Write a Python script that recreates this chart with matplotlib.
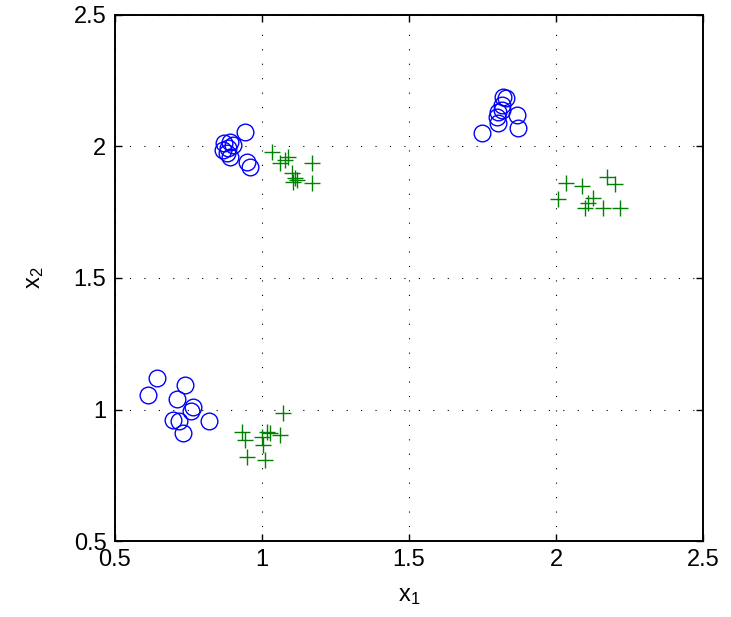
import matplotlib
matplotlib.use('Agg')
import matplotlib.pyplot as plt
import numpy as np

# class 1 (circles)
circ_x = [0.942, 0.871, 0.891, 0.901, 0.867, 0.884, 0.891, 0.949, 0.959, 0.881,
          1.820, 1.830, 1.816, 1.803, 1.799, 1.803, 1.867, 1.871, 1.748, 1.816,
          0.643, 0.612, 0.738, 0.711, 0.765, 0.759, 0.697, 0.718, 0.731, 0.820]
circ_y = [2.055, 2.013, 2.017, 2.006, 1.987, 1.994, 1.960, 1.941, 1.922, 1.975,
          2.188, 2.184, 2.158, 2.131, 2.112, 2.089, 2.120, 2.070, 2.051, 2.139,
          1.120, 1.055, 1.093, 1.040, 1.010, 0.994, 0.960, 0.956, 0.911, 0.956]

# class 2 (crosses)
plus_x = [1.034, 1.061, 1.078, 1.088, 1.170, 1.102, 1.112, 1.119, 1.105, 1.170,
          2.034, 2.088, 2.173, 2.201, 2.007, 2.126, 2.109, 2.099, 2.160, 2.218,
          1.071, 0.932, 0.942, 1.017, 1.027, 1.000, 1.061, 1.003, 0.949, 1.010]
plus_y = [1.979, 1.937, 1.949, 1.960, 1.937, 1.899, 1.880, 1.873, 1.865, 1.861,
          1.861, 1.850, 1.884, 1.857, 1.800, 1.804, 1.785, 1.766, 1.766, 1.766,
          0.987, 0.914, 0.884, 0.914, 0.911, 0.895, 0.903, 0.865, 0.819, 0.808]

ticks = [0.5, 1, 1.5, 2, 2.5]
tick_labels = ['0.5', '1', '1.5', '2', '2.5']

plt.rcParams['font.family'] = ['Liberation Sans', 'DejaVu Sans']
plt.rcParams['mathtext.default'] = 'regular'

fig = plt.figure(figsize=(7.31, 6.17), dpi=100)
ax = fig.add_axes([0.157, 0.123, 0.805, 0.853])

ax.plot(circ_x, circ_y, 'o', mfc='none', mec=(0, 0, 1), ms=12, mew=1.0)
ax.plot(plus_x, plus_y, '+', color=(0, 0.5, 0), ms=12, mew=1.0)

ax.set_xlim(0.5, 2.5)
ax.set_ylim(0.5, 2.5)
ax.set_xticks(ticks)
ax.set_xticklabels(tick_labels)
ax.set_yticks(ticks)
ax.set_yticklabels(tick_labels)
ax.tick_params(direction='in', top=True, right=True, length=5, width=1.0,
               labelsize=17, pad=6)
ax.grid(True, linestyle=(0, (1, 12)), color='black', linewidth=0.8)
for sp in ax.spines.values():
    sp.set_linewidth(1.4)

ax.set_xlabel('x$_1$', fontsize=17, labelpad=10)
ax.set_ylabel('x$_2$', fontsize=17, labelpad=20)

# title mostly cut off at the top edge of the picture
fig.text(0.782, 1.0115, '(a)', ha='center', va='baseline', fontsize=17)

fig.savefig('out.png', dpi=100)
